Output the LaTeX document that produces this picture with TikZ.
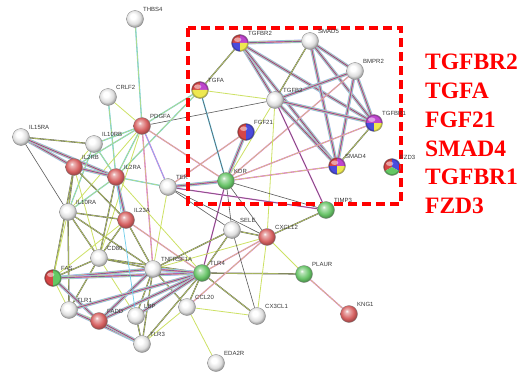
\documentclass[tikz,border=0pt]{standalone}
\usepackage{fontspec}
\setmainfont{Liberation Serif}
\newfontfamily\lblfont{Liberation Sans}
\usetikzlibrary{calc}
\pgfdeclarelayer{paper}
\pgfdeclarelayer{bg}
\pgfdeclarelayer{mid}
\pgfsetlayers{paper,bg,mid,main}
\definecolor{sRed}{RGB}{214,96,96}
\definecolor{sGreen}{RGB}{104,196,104}
\definecolor{sGrey}{RGB}{222,222,222}
\definecolor{cRed}{RGB}{214,70,70}
\definecolor{cPur}{RGB}{190,70,205}
\definecolor{cBlue}{RGB}{75,75,220}
\definecolor{cYel}{RGB}{238,232,80}
\definecolor{cGrn}{RGB}{100,200,100}
\definecolor{ytm}{RGB}{205,225,100}
\definecolor{kgrey}{RGB}{90,90,90}
\definecolor{cy}{RGB}{110,205,235}
\definecolor{mg}{RGB}{228,105,222}
\definecolor{hom}{RGB}{185,185,240}
\pgfdeclareradialshading{ballR}{\pgfpoint{-7bp}{9bp}}{color(0bp)=(white); color(5bp)=(white!55!sRed); color(19bp)=(sRed); color(31bp)=(sRed!60!black); color(50bp)=(sRed!60!black)}
\pgfdeclareradialshading{ballG}{\pgfpoint{-7bp}{9bp}}{color(0bp)=(white); color(5bp)=(white!55!sGreen); color(19bp)=(sGreen); color(31bp)=(sGreen!60!black); color(50bp)=(sGreen!60!black)}
\pgfdeclareradialshading{ballW}{\pgfpoint{-7bp}{9bp}}{color(0bp)=(white); color(8bp)=(white); color(20bp)=(sGrey); color(31bp)=(sGrey!55!black); color(50bp)=(sGrey!55!black)}
\tikzset{
  ball/.style={circle, minimum size=17pt, inner sep=0pt, draw=black!50, line width=0.3pt},
  wball/.style={ball, shading=ballW},
  rball/.style={ball, shading=ballR},
  gball/.style={ball, shading=ballG},
  mball/.style={ball},
  lbl/.style={font=\lblfont\fontsize{6}{7}\selectfont, text=black!78, anchor=west, inner sep=0pt},
  big/.style={font=\bfseries\fontsize{23.5}{26}\selectfont, text=red, anchor=base west, inner sep=0pt},
  ey/.style={draw=ytm, line width=0.8pt},
  ek/.style={draw=kgrey, line width=0.6pt},
  ec/.style={draw=cy, line width=0.7pt},
  eyk/.style={draw=kgrey, double=ytm, line width=0.4pt, double distance=0.5pt},
  ecy/.style={draw=cy, double=ytm, line width=0.4pt, double distance=0.5pt},
  emy/.style={draw=mg, double=ytm, line width=0.4pt, double distance=0.5pt},
  emg/.style={draw=mg, double=kgrey, line width=0.4pt, double distance=0.5pt},
  eck/.style={draw=cy, double=kgrey, line width=0.4pt, double distance=0.5pt},
  emc/.style={draw=mg, double=cy, line width=0.4pt, double distance=0.5pt},
  em/.style={preaction={draw=hom, line width=3.4pt}, preaction={draw=cy, line width=2.7pt},
             preaction={draw=ytm, line width=2.0pt}, preaction={draw=mg, line width=1.3pt},
             draw=kgrey, line width=0.45pt},
  redbox/.style={draw=red, line width=3.4pt, dash pattern=on 9pt off 5pt}
}
\newcommand\pnode[5]{\node[#4] (#1) at (#2,#3) {};\node[lbl] (#1-l) at (#2+8,#3-10) {#5};}
\newcommand\sect[4]{\fill[#4] (#1.center) -- ++(#2:8.5pt) arc[start angle=#2, end angle=#3, radius=8.5pt] -- cycle;}
\newcommand\gloss[1]{\draw[black, opacity=.22, line width=1.2pt] (#1.center) circle[radius=7.8pt];
  \fill[white, opacity=.5] ($(#1.center)+(-2.3pt,3.3pt)$) ellipse[x radius=3.6pt, y radius=2.3pt];}
\begin{document}
\begin{tikzpicture}[x=1pt,y=-1pt]
\useasboundingbox (0,0) rectangle (529,377);
\begin{pgfonlayer}{paper}
\fill[white] (0,0) rectangle (529,377);
\end{pgfonlayer}
% nodes
\pnode{THBS4}{135}{19}{wball}{THBS4}
\pnode{CRLF2}{108}{97}{wball}{CRLF2}
\pnode{PDGFA}{142}{126}{rball}{PDGFA}
\pnode{IL15RA}{21}{137}{wball}{IL15RA}
\pnode{IL10RB}{94}{144}{wball}{IL10RB}
\pnode{IL2RB}{74}{167}{rball}{IL2RB}
\pnode{IL2RA}{116}{177}{rball}{IL2RA}
\pnode{TEK}{168}{187}{wball}{TEK}
\pnode{TGFBR2}{240}{43}{mball}{TGFBR2}
\pnode{SMAD5}{310}{41}{wball}{SMAD5}
\pnode{BMPR2}{355}{71}{wball}{BMPR2}
\pnode{TGFA}{200}{90}{mball}{TGFA}
\pnode{TGFB2}{275}{100}{wball}{TGFB2}
\pnode{TGFBR1}{374}{123}{mball}{TGFBR1}
\pnode{FGF21}{246}{132}{mball}{FGF21}
\pnode{SMAD4}{337}{166}{mball}{SMAD4}
\pnode{KDR}{226}{181}{gball}{KDR}
\pnode{FZD3}{392}{167}{mball}{FZD3}
\pnode{IL10RA}{68}{212}{wball}{IL10RA}
\pnode{IL23A}{126}{220}{rball}{IL23A}
\pnode{CD80}{99}{258}{wball}{CD80}
\pnode{FAS}{53}{278}{mball}{FAS}
\pnode{TNFRSF1A}{153}{269}{wball}{TNFRSF1A}
\pnode{TLR4}{202}{273}{gball}{TLR4}
\pnode{TLR1}{69}{310}{wball}{TLR1}
\pnode{FADD}{99}{321}{rball}{FADD}
\pnode{LBP}{136}{316}{wball}{LBP}
\pnode{TLR3}{142}{344}{wball}{TLR3}
\pnode{CCL20}{187}{307}{wball}{CCL20}
\pnode{TIMP3}{326}{210}{gball}{TIMP3}
\pnode{SELE}{232}{230}{wball}{SELE}
\pnode{CXCL12}{267}{237}{rball}{CXCL12}
\pnode{PLAUR}{304}{274}{gball}{PLAUR}
\pnode{CX3CL1}{257}{316}{wball}{CX3CL1}
\pnode{KNG1}{349}{314}{rball}{KNG1}
\pnode{EDA2R}{216}{363}{wball}{EDA2R}
% multicoloured balls and highlight box
\begin{pgfonlayer}{mid}
\sect{TGFBR2}{90}{180}{cRed}\sect{TGFBR2}{0}{90}{cPur}\sect{TGFBR2}{180}{270}{cBlue}\sect{TGFBR2}{270}{360}{cYel}\gloss{TGFBR2}
\sect{TGFA}{90}{180}{cRed}\sect{TGFA}{0}{90}{cPur}\sect{TGFA}{180}{360}{cYel}\gloss{TGFA}
\sect{FGF21}{90}{270}{cRed}\sect{FGF21}{-90}{90}{cBlue}\gloss{FGF21}
\sect{SMAD4}{90}{180}{cRed}\sect{SMAD4}{0}{90}{cPur}\sect{SMAD4}{180}{270}{cBlue}\sect{SMAD4}{270}{360}{cYel}\gloss{SMAD4}
\sect{TGFBR1}{0}{180}{cPur}\sect{TGFBR1}{180}{270}{cBlue}\sect{TGFBR1}{270}{360}{cYel}\gloss{TGFBR1}
\sect{FZD3}{90}{210}{cRed}\sect{FZD3}{-30}{90}{cBlue}\sect{FZD3}{210}{330}{cGrn}\gloss{FZD3}
\sect{FAS}{90}{270}{cRed}\sect{FAS}{-90}{90}{cGrn}\gloss{FAS}
\draw[redbox] (188,28) rectangle (401,204);
\end{pgfonlayer}
% edges
\begin{pgfonlayer}{bg}
\foreach \a/\b/\s in {
 TGFBR2/SMAD5/em, TGFBR2/TGFB2/em, TGFBR2/SMAD4/em, TGFBR2/TGFBR1/em, TGFBR2/TGFA/eyk,
 SMAD5/TGFB2/eyk, SMAD5/BMPR2/em, SMAD5/TGFBR1/em, SMAD5/SMAD4/em,
 BMPR2/TGFB2/em, BMPR2/TGFBR1/em, BMPR2/SMAD4/em, BMPR2/KDR/emy,
 TGFB2/TGFBR1/em, TGFB2/SMAD4/em, TGFB2/TGFA/ey, TGFB2/PDGFA/ek, TGFB2/KDR/ey,
 TGFB2/CXCL12/ey, TGFB2/TIMP3/emg, SMAD4/TGFBR1/eyk, SMAD4/KDR/emy, TGFBR1/KDR/emy,
 FGF21/KDR/em, FGF21/TEK/emy, TGFA/KDR/eck, TGFA/PDGFA/ecy, TGFA/IL2RA/ecy,
 KDR/TEK/em, KDR/PDGFA/emy, KDR/SELE/ek, KDR/CXCL12/ek, KDR/TIMP3/ek, KDR/TLR4/emg,
 TEK/PDGFA/emc, TEK/SELE/ek, TEK/CXCL12/ek, TEK/TIMP3/emg, TEK/IL2RA/ecy, TEK/TNFRSF1A/ey,
 THBS4/PDGFA/ecy, CRLF2/IL2RA/ecy, CRLF2/PDGFA/ey, PDGFA/IL10RB/ecy, PDGFA/IL2RB/ecy,
 PDGFA/IL2RA/ecy, PDGFA/IL10RA/ey, PDGFA/TNFRSF1A/emy, PDGFA/CD80/ey,
 IL15RA/IL10RB/eyk, IL15RA/IL2RB/em, IL15RA/IL2RA/em, IL15RA/IL10RA/ek,
 IL10RB/IL2RB/ey, IL10RB/IL2RA/ecy, IL10RB/IL10RA/ecy,
 IL2RB/IL2RA/em, IL2RB/IL10RA/eyk, IL2RB/IL23A/eyk, IL2RB/CD80/ey, IL2RB/FAS/eyk,
 IL2RA/IL23A/em, IL2RA/IL10RA/ecy, IL2RA/CD80/eyk, IL2RA/TLR4/ey,
 IL10RA/IL23A/eyk, IL10RA/CD80/eyk, IL10RA/TNFRSF1A/eyk, IL10RA/FAS/ey, IL10RA/TLR1/eyk,
 IL23A/CD80/eyk, IL23A/TNFRSF1A/eyk, IL23A/TLR4/emy, IL23A/FAS/ey,
 CD80/FAS/eyk, CD80/TNFRSF1A/eyk, CD80/TLR4/eyk, CD80/TLR1/eyk, CD80/LBP/ey,
 FAS/TNFRSF1A/em, FAS/TLR4/em, FAS/FADD/em, FAS/TLR1/ey,
 TNFRSF1A/TLR4/em, TNFRSF1A/FADD/em, TNFRSF1A/LBP/eyk, TNFRSF1A/TLR3/eyk,
 TNFRSF1A/CCL20/eyk, TNFRSF1A/SELE/eyk, TNFRSF1A/CXCL12/ey,
 TLR1/FADD/ey, TLR1/TLR4/em, TLR1/TLR3/em, FADD/TLR3/em, FADD/TLR4/em,
 LBP/TLR4/em, LBP/TLR3/eyk, LBP/IL2RA/ec, TLR3/TLR4/eyk, TLR3/CCL20/ey,
 TLR4/CCL20/eyk, TLR4/CX3CL1/eyk, TLR4/SELE/eyk, TLR4/CXCL12/emy, TLR4/PLAUR/eyk,
 CCL20/CXCL12/emy, CCL20/CX3CL1/ey, CCL20/EDA2R/ey,
 SELE/CXCL12/eyk, SELE/CX3CL1/ek, CXCL12/CX3CL1/ey, CXCL12/PLAUR/ey, CXCL12/TIMP3/eyk,
 PLAUR/KNG1/emy}
 \draw[\s] (\a) -- (\b);
\end{pgfonlayer}
% gene list
\node[big] (t1) at (425,70) {TGFBR2};
\node[big] (t2) at (425,98.7) {TGFA};
\node[big] (t3) at (425,127.4) {FGF21};
\node[big] (t4) at (425,156.1) {SMAD4};
\node[big] (t5) at (425,184.8) {TGFBR1};
\node[big] (t6) at (425,213.5) {FZD3};
\end{tikzpicture}
\end{document}
